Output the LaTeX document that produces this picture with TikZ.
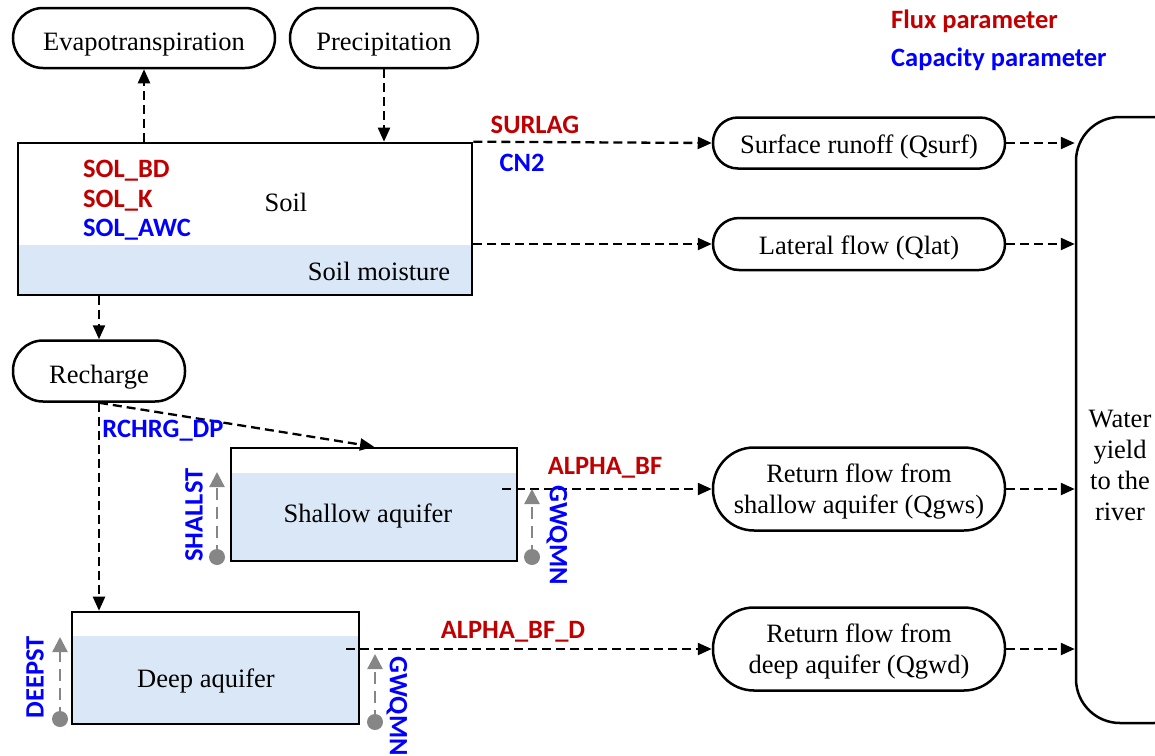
\documentclass[tikz,border=0pt]{standalone}
\usepackage{fontspec}
\setmainfont{Liberation Serif}
\newfontfamily\parfont{Carlito}
\usetikzlibrary{arrows.meta,calc}
\definecolor{fluxred}{HTML}{C00000}
\definecolor{capblue}{HTML}{0000FF}
\definecolor{storegray}{HTML}{868686}
\definecolor{water}{HTML}{DAE7F6}
\newcommand{\twoline}[2]{\begin{tabular}[t]{@{}c@{}}#1\\#2\end{tabular}}
\begin{document}
\begin{tikzpicture}[x=1pt,y=-1pt,
  serif/.style={font=\fontsize{26.5}{31}\selectfont},
  pill/.style={serif, draw, line width=2.5pt, align=center, inner sep=0pt, text height=24pt, text depth=0pt},
  pill2/.style={pill, text height=0pt, text depth=14pt},
  tank/.style={draw, line width=2.6pt, inner sep=0pt},
  flow/.style={line width=2.3pt, dash pattern=on 9pt off 5pt, -{Triangle[length=14pt,width=12pt]}},
  store/.style={line width=2.4pt, storegray, dash pattern=on 12pt off 7pt, -{Triangle[length=15pt,width=15pt]}},
  parlab/.style={font=\parfont\bfseries\fontsize{26.5}{30}\selectfont, inner sep=0pt},
  fluxpar/.style={parlab, text=fluxred},
  capar/.style={parlab, text=capblue}]
\useasboundingbox (0,0) rectangle (1155,755);

% water levels inside the stores
\fill[water] (18,245) rectangle (472,295);
\fill[water] (231,473) rectangle (517,561);
\fill[water] (72,636) rectangle (359,724);

% top boundary nodes
\node[pill, rounded corners=30pt, minimum width=262pt, minimum height=60pt] (evap) at (144,38) {Evapotranspiration};
\node[pill, rounded corners=30pt, minimum width=188pt, minimum height=60pt] (precip) at (384,38) {Precipitation};

% soil store
\node[tank, minimum width=454pt, minimum height=152pt] (soil) at (245,219) {};
\node[serif] (soiltxt) at (286,202) {Soil};
\node[serif] (moist) at (379,271) {Soil moisture};
\node[fluxpar, anchor=west] (solbd) at (83,171) {SOL\_BD};
\node[fluxpar, anchor=west] (solk) at (83,201) {SOL\_K};
\node[capar, anchor=west] (solawc) at (83,230) {SOL\_AWC};

% surface and lateral outflows
\node[pill, text height=21pt, rounded corners=25pt, minimum width=292pt, minimum height=51pt] (surf) at (859,143) {Surface runoff (Qsurf)};
\node[pill, text height=21pt, rounded corners=26pt, minimum width=292pt, minimum height=52pt] (lat) at (859,244) {Lateral flow (Qlat)};

% recharge
\node[pill, rounded corners=30pt, minimum width=172pt, minimum height=61pt] (rech) at (99,371) {Recharge};

% shallow aquifer
\node[tank, minimum width=286pt, minimum height=113pt] (shallow) at (374,504.5) {};
\node[serif] (shtxt) at (368,516) {Shallow aquifer};

% deep aquifer
\node[tank, minimum width=287pt, minimum height=112pt] (deep) at (215.5,668) {};
\node[serif] (dptxt) at (206,681) {Deep aquifer};

% return flows
\node[pill2, rounded corners=41pt, minimum width=292pt, minimum height=83pt] (qgws) at (859,489) {\twoline{Return flow from}{shallow aquifer (Qgws)}};
\node[pill2, rounded corners=41pt, minimum width=292pt, minimum height=83pt] (qgwd) at (859,649) {\twoline{Return flow from}{deep aquifer (Qgwd)}};

% water yield
\node[pill, rounded corners=44pt, minimum width=122pt, minimum height=606pt] (yield) at (1137,420) {};
\node[serif, align=center] (yieldtxt) at (1120,465) {Water\\yield\\to the\\river};

% connectors
\draw[flow] (evap.south |- soil.north) -- (evap.south);
\draw[flow] (precip.south) -- (precip.south |- soil.north);
\draw[flow] (soil.north east) -- (surf.west);
\draw[flow] (lat.west -| soil.east) -- (lat.west);
\draw[flow] (rech.north |- soil.south) -- (rech.north);
\draw[flow] (rech.south) -- (shallow.north);
\draw[flow] (rech.south) -- (rech.south |- deep.north);
\coordinate (shout) at (502,489);
\coordinate (dpout) at (346,649);
\draw[flow] (shout) -- (qgws.west);
\draw[flow] (dpout) -- (qgwd.west);
\draw[flow] (surf.east) -- (surf.east -| yield.west);
\draw[flow] (lat.east) -- (lat.east -| yield.west);
\draw[flow] (qgws.east) -- (qgws.east -| yield.west);
\draw[flow] (qgwd.east) -- (qgwd.east -| yield.west);

% flux parameter labels
\node[fluxpar] (surlag) at (535,125) {SURLAG};
\node[capar] (cn2) at (522,163) {CN2};
\node[capar] (rchrg) at (163,431) {RCHRG\_DP};
\node[fluxpar] (alphabf) at (605,468) {ALPHA\_BF};
\node[fluxpar] (alphabfd) at (513,632) {ALPHA\_BF\_D};

% storage thresholds
\coordinate (sh1) at (217,557);
\coordinate (sh2) at (217,472);
\coordinate (gw1) at (532,557);
\coordinate (gw2) at (532,489);
\coordinate (dp1) at (60,719);
\coordinate (dp2) at (60,637);
\coordinate (gd1) at (375,722);
\coordinate (gd2) at (375,654);
\foreach \a/\b in {sh1/sh2,gw1/gw2,dp1/dp2,gd1/gd2}{
  \fill[storegray] (\a) circle (8pt);
  \draw[store] (\a) -- (\b);
}
\node[capar, rotate=90] (shallst) at (194,515) {SHALLST};
\node[capar, rotate=-90] (gwqmn1) at (557,535) {GWQMN};
\node[capar, rotate=90] (deepst) at (35,677) {DEEPST};
\node[capar, rotate=-90] (gwqmn2) at (397,706) {GWQMN};

% legend
\node[fluxpar, anchor=west] (legf) at (891,21) {Flux parameter};
\node[capar, anchor=west] (legc) at (891,59) {Capacity parameter};
\end{tikzpicture}
\end{document}
